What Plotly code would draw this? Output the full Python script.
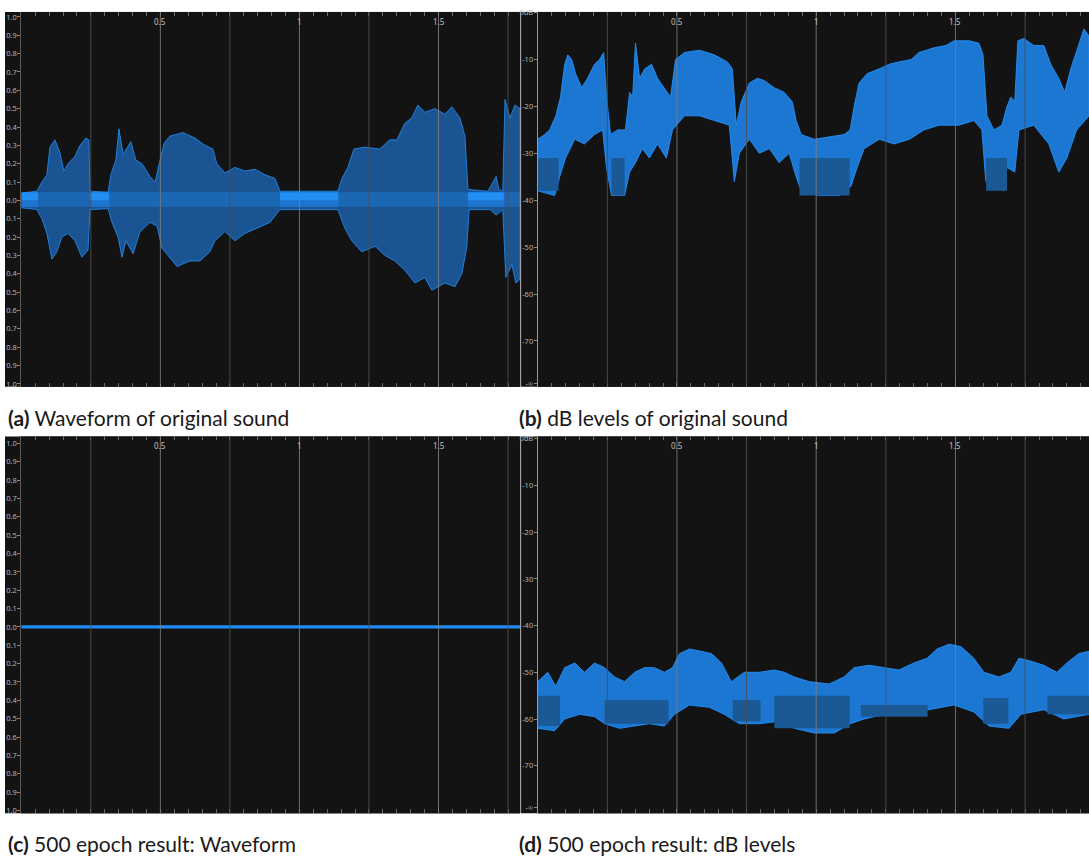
import plotly.graph_objects as go

W, H = 1089, 859

# ---------------- data ----------------
# (a) waveform of original sound: peak envelope, time in s, amplitude
a_up_t = [0.000, 0.056, 0.074, 0.092, 0.103, 0.121, 0.139, 0.153, 0.168, 0.193, 0.211, 0.232, 0.243, 0.247,
          0.312, 0.322, 0.340, 0.351, 0.366, 0.394, 0.412, 0.434, 0.463, 0.481, 0.499, 0.513, 0.534, 0.581,
          0.624, 0.660, 0.689, 0.703, 0.732, 0.768, 0.804, 0.840, 0.876, 0.912, 0.930, 1.138, 1.153, 1.174,
          1.196, 1.235, 1.289, 1.325, 1.350, 1.379, 1.404, 1.426, 1.451, 1.487, 1.523, 1.548, 1.577, 1.595,
          1.606, 1.678, 1.692, 1.707, 1.717, 1.731, 1.739, 1.757, 1.775, 1.793]
a_up_v = [0.04, 0.05, 0.10, 0.14, 0.29, 0.33, 0.26, 0.16, 0.20, 0.24, 0.30, 0.34, 0.33, 0.05,
          0.045, 0.14, 0.22, 0.39, 0.25, 0.32, 0.22, 0.20, 0.13, 0.10, 0.22, 0.31, 0.35, 0.37,
          0.34, 0.30, 0.28, 0.20, 0.15, 0.18, 0.16, 0.17, 0.14, 0.12, 0.05, 0.05, 0.12, 0.18,
          0.28, 0.29, 0.28, 0.33, 0.33, 0.42, 0.45, 0.52, 0.48, 0.50, 0.47, 0.51, 0.45, 0.35,
          0.06, 0.05, 0.09, 0.13, 0.06, 0.05, 0.55, 0.45, 0.52, 0.50]
a_lo_t = [0.000, 0.056, 0.074, 0.092, 0.110, 0.128, 0.146, 0.168, 0.193, 0.218, 0.240, 0.247,
          0.312, 0.326, 0.348, 0.362, 0.376, 0.402, 0.427, 0.463, 0.488, 0.506, 0.534, 0.560,
          0.606, 0.642, 0.678, 0.696, 0.732, 0.768, 0.804, 0.851, 0.894, 0.930, 1.138, 1.163,
          1.188, 1.224, 1.272, 1.307, 1.343, 1.379, 1.415, 1.451, 1.476, 1.523, 1.559, 1.584,
          1.602, 1.610, 1.685, 1.707, 1.731, 1.742, 1.764, 1.778, 1.793]
a_lo_v = [-0.04, -0.05, -0.10, -0.18, -0.32, -0.28, -0.20, -0.18, -0.22, -0.31, -0.27, -0.05,
          -0.045, -0.12, -0.20, -0.31, -0.22, -0.29, -0.17, -0.12, -0.14, -0.26, -0.31, -0.36,
          -0.33, -0.33, -0.28, -0.22, -0.17, -0.22, -0.18, -0.15, -0.12, -0.05, -0.05, -0.15,
          -0.22, -0.28, -0.25, -0.30, -0.33, -0.38, -0.45, -0.42, -0.49, -0.45, -0.47, -0.40,
          -0.25, -0.05, -0.05, -0.08, -0.05, -0.42, -0.35, -0.45, -0.43]
# bright noise-floor band visible in the silent stretches
a_sil_t0 = [0.000, 0.247, 0.930, 1.606]
a_sil_t1 = [0.060, 0.316, 1.140, 1.735]
a_noise_top = 0.045
a_noise_bot = -0.035

# (b) dB levels of original sound: peak envelope in dB
b_up_t = [0.0, 0.025, 0.043, 0.065, 0.082, 0.097, 0.108, 0.122, 0.136, 0.158, 0.179, 0.204, 0.222, 0.237,
          0.247, 0.262, 0.287, 0.315, 0.330, 0.341, 0.351, 0.366, 0.384, 0.409, 0.430, 0.455, 0.477, 0.495,
          0.527, 0.581, 0.634, 0.681, 0.699, 0.713, 0.731, 0.760, 0.789, 0.814, 0.849, 0.885, 0.914, 0.928,
          0.946, 0.993, 1.047, 1.100, 1.122, 1.136, 1.154, 1.183, 1.226, 1.262, 1.297, 1.341, 1.369, 1.423,
          1.466, 1.495, 1.548, 1.584, 1.599, 1.613, 1.638, 1.667, 1.685, 1.699, 1.713, 1.724, 1.746, 1.781,
          1.817, 1.842, 1.871, 1.892, 1.914, 1.943, 1.961, 1.980]
b_up_db = [-27, -26, -25, -22, -18, -11, -9, -10, -13, -16, -14, -11, -10, -8.5,
           -18, -26, -25, -25, -17, -18, -6.5, -14, -12, -11, -14, -16, -18, -10,
           -8.5, -8, -9, -10.5, -12, -24, -19, -15, -14, -14.5, -16, -17, -19, -23,
           -26, -27, -26.5, -26, -25, -20, -15, -13, -12, -11, -10.5, -10, -8.5, -7.5,
           -7, -6, -6, -6.5, -9, -22, -25, -24, -20, -18, -19, -6, -5.5, -7,
           -7, -11, -14, -17, -12, -7, -3.5, -5]
b_lo_t = [0.0, 0.061, 0.079, 0.100, 0.133, 0.168, 0.204, 0.233, 0.247, 0.265, 0.312, 0.330, 0.351,
          0.376, 0.401, 0.430, 0.462, 0.484, 0.527, 0.581, 0.634, 0.688, 0.706, 0.724, 0.760, 0.796,
          0.832, 0.867, 0.903, 0.928, 0.946, 1.011, 1.082, 1.125, 1.147, 1.172, 1.226, 1.280, 1.335,
          1.387, 1.441, 1.513, 1.566, 1.595, 1.609, 1.674, 1.685, 1.713, 1.728, 1.781, 1.835, 1.871,
          1.900, 1.935, 1.980]
b_lo_db = [-38, -39, -35, -31, -27, -28, -26, -25, -33, -39, -39, -34, -32,
           -29, -31, -28, -31, -25, -22, -22, -23, -24, -36, -30, -27, -30,
           -29, -32, -30, -35, -38, -39, -39, -37, -33, -29, -27, -28, -27,
           -25, -24, -24, -23, -25, -36, -38, -33, -34, -25, -24, -28, -34,
           -31, -25, -22]
# dense (darker) body in the quiet stretches: start, end, top, bottom
b_dark_t0 = [0.000, 0.265, 0.940, 1.610]
b_dark_t1 = [0.075, 0.312, 1.120, 1.685]
b_dark_top = [-31, -31, -31, -31]
b_dark_bot = [-38, -39, -39, -38]

# (c) 500 epoch result: waveform (almost silent)
c_t = [0.0, 1.793]
c_noise_floor = 0.006

# (d) 500 epoch result: dB levels
d_up_t = [0.0, 0.036, 0.065, 0.097, 0.133, 0.168, 0.204, 0.240, 0.276, 0.312, 0.348, 0.384, 0.419,
          0.455, 0.484, 0.509, 0.545, 0.581, 0.624, 0.660, 0.695, 0.742, 0.796, 0.849, 0.885, 0.921,
          0.975, 1.047, 1.100, 1.136, 1.190, 1.244, 1.297, 1.351, 1.398, 1.434, 1.477, 1.520, 1.566,
          1.602, 1.656, 1.699, 1.728, 1.763, 1.817, 1.864, 1.900, 1.943, 1.980]
d_up_db = [-52, -50, -53, -49, -48, -50, -48, -49, -51, -52, -50, -49, -49,
           -50, -49, -46, -45, -45.5, -46, -48, -52, -50, -50, -49.5, -50, -51,
           -52, -52.5, -51, -49, -48.5, -49, -49.5, -48, -47, -45, -44, -44.5, -47,
           -50, -51, -50, -47, -47.5, -48.5, -50, -48, -46, -45.5]
d_lo_t = [0.0, 0.061, 0.097, 0.151, 0.204, 0.240, 0.294, 0.348, 0.401, 0.455, 0.491, 0.545, 0.616,
          0.670, 0.724, 0.796, 0.867, 0.921, 0.993, 1.065, 1.122, 1.172, 1.244, 1.335, 1.405, 1.495,
          1.566, 1.620, 1.692, 1.735, 1.817, 1.889, 1.980]
d_lo_db = [-62, -62.5, -60, -59, -59.5, -61, -62, -61.5, -61, -61.5, -59, -57, -57.5,
           -59, -61, -61, -60.5, -62, -63, -63, -61, -60, -59, -59, -58, -57,
           -58.5, -61.5, -62, -59, -58, -60, -59]
d_dark_t0 = [0.000, 0.240, 0.700, 0.850, 1.160, 1.600, 1.830]
d_dark_t1 = [0.080, 0.470, 0.800, 1.120, 1.400, 1.690, 1.980]
d_dark_top = [-55, -56, -56, -55, -57, -55.5, -55]
d_dark_bot = [-61.5, -61, -60.5, -62, -59.5, -61, -59]

# axis tick labels
amp_vals = [1.0, 0.9, 0.8, 0.7, 0.6, 0.5, 0.4, 0.3, 0.2, 0.1, 0.0,
            -0.1, -0.2, -0.3, -0.4, -0.5, -0.6, -0.7, -0.8, -0.9, -1.0]
amp_text = ["1.0", "0.9", "0.8", "0.7", "0.6", "0.5", "0.4", "0.3", "0.2", "0.1", "0.0",
            "0.1", "0.2", "0.3", "0.4", "0.5", "0.6", "0.7", "0.8", "0.9", "1.0"]
db_vals = [0, -10, -20, -30, -40, -50, -60, -70, -79]
db_text = ["0dB", "-10", "-20", "-30", "-40", "-50", "-60", "-70", "-\u221e"]
time_major = [0.5, 1.0, 1.5]
time_major_text = ["0.5", "1", "1.5"]
time_grid = [0.25, 0.5, 0.75, 1.0, 1.25, 1.5, 1.75]

captions = ["<b>(a)</b> Waveform of original sound",
            "<b>(b)</b> dB levels of original sound",
            "<b>(c)</b> 500 epoch result: Waveform",
            "<b>(d)</b> 500 epoch result: dB levels"]

# ---------------- styling / layout ----------------
BG = "#131313"
BRIGHT = "rgb(32,140,245)"
WAVE_FILL = "rgba(30,125,225,0.62)"
DB_FILL = "rgba(30,138,245,0.85)"
DARK_BODY = "rgb(26,88,150)"
LABEL = "#b4b4b4"
FONT = "Noto Sans"


def px(x):
    return x / W


def py(y):
    return 1 - y / H


fig = go.Figure()


def poly(ut, uv, lt, lv):
    return list(ut) + list(lt)[::-1], list(uv) + list(lv)[::-1]


def rects(t0, t1, top, bot):
    xs, ys = [], []
    for s, e, tp, bt in zip(t0, t1, top, bot):
        xs += [s, e, e, s, s, None]
        ys += [tp, tp, bt, bt, tp, None]
    return xs, ys


def add_fill(x, y, color, xa, ya, lw=0, lc=None):
    fig.add_trace(go.Scatter(x=x, y=y, fill="toself", fillcolor=color, mode="lines",
                             line=dict(width=lw, color=lc or color), xaxis=xa, yaxis=ya,
                             hoverinfo="skip", showlegend=False, connectgaps=False))


# (a)
xa_, ya_ = poly(a_up_t, a_up_v, a_lo_t, a_lo_v)
add_fill(xa_, ya_, WAVE_FILL, "x", "y", 1, "rgba(35,140,240,0.85)")
# faint centre core through the whole signal, bright band in the silent stretches
add_fill([a_up_t[0], a_up_t[-1], a_up_t[-1], a_up_t[0]],
         [a_noise_top, a_noise_top, a_noise_bot, a_noise_bot], "rgba(35,140,240,0.35)", "x", "y")
n_sil = len(a_sil_t0)
xr, yr = rects(a_sil_t0, a_sil_t1, [a_noise_top] * n_sil, [0] * n_sil)
add_fill(xr, yr, "rgba(35,142,245,0.97)", "x", "y")
xr, yr = rects(a_sil_t0, a_sil_t1, [0] * n_sil, [a_noise_bot] * n_sil)
add_fill(xr, yr, "rgba(30,118,212,0.95)", "x", "y")

# (b)
xb_, yb_ = poly(b_up_t, b_up_db, b_lo_t, b_lo_db)
add_fill(xb_, yb_, DB_FILL, "x2", "y2", 1, "rgba(35,145,250,0.9)")
xr, yr = rects(b_dark_t0, b_dark_t1, b_dark_top, b_dark_bot)
add_fill(xr, yr, DARK_BODY, "x2", "y2")

# (c)
add_fill([c_t[0], c_t[-1], c_t[-1], c_t[0]],
         [c_noise_floor, c_noise_floor, -c_noise_floor, -c_noise_floor], BRIGHT, "x3", "y3", 1, BRIGHT)

# (d)
xd_, yd_ = poly(d_up_t, d_up_db, d_lo_t, d_lo_db)
add_fill(xd_, yd_, DB_FILL, "x4", "y4", 1, "rgba(35,145,250,0.9)")
xr, yr = rects(d_dark_t0, d_dark_t1, d_dark_top, d_dark_bot)
add_fill(xr, yr, DARK_BODY, "x4", "y4")

# panels: (x_left_px, x_right_px, y_top_px, y_bottom_px, t_end, yrange, kind)
panels = [
    (21.3, 520, 7, 385, 1.793, [-1.016, 1.027], "amp"),
    (537.7, 1089, 7, 385, 1.9795, [-79.8, 0.15], "db"),
    (21.3, 520, 435, 815, 1.793, [-1.016, 1.038], "amp"),
    (537.7, 1089, 435, 815, 1.9795, [-80.2, 0.49], "db"),
]

tick_vals = [round(0.05 * k, 2) for k in range(1, 40)]
layout = dict(width=W, height=H, margin=dict(l=0, r=0, t=0, b=0),
              paper_bgcolor="white", plot_bgcolor=BG, showlegend=False)
shapes = []
annotations = []
for i, (xl, xr_, yt, yb, tend, yrng, kind) in enumerate(panels):
    n = "" if i == 0 else str(i + 1)
    tv = [v for v in tick_vals if v < tend]
    layout["xaxis" + n] = dict(domain=[px(xl), px(xr_)], range=[0, tend], anchor="y" + n,
                               side="top", ticks="inside", ticklen=4, tickcolor="#6a6a6a",
                               tickvals=tv, showticklabels=False,
                               showgrid=False, zeroline=False, showline=False, mirror="ticks",
                               fixedrange=True)
    layout["yaxis" + n] = dict(domain=[py(yb), py(yt)], range=yrng, anchor="x" + n,
                               tickvals=amp_vals if kind == "amp" else db_vals,
                               ticktext=amp_text if kind == "amp" else db_text,
                               ticks="outside", ticklen=3, tickcolor="#8a8a8a",
                               tickfont=dict(family=FONT, size=7.5, color=LABEL),
                               ticklabeloverflow="allow", ticklabelstandoff=-1,
                               showgrid=False, zeroline=False, showline=True,
                               linecolor="#5a5a5a" if kind == "amp" else "#9a9a9a", linewidth=1,
                               fixedrange=True)
    # time labels along the top, placed with the axis scale
    for v, txt in zip(time_major, time_major_text):
        annotations.append(dict(text=txt, x=v, y=1, xref="x" + n, yref="y" + n + " domain",
                                xanchor="center", yanchor="top", yshift=-2, showarrow=False,
                                font=dict(family=FONT, size=8, color="#c4c0b4")))
    # dark panel background including the label strip
    left = 5 if kind == "amp" else 521
    shapes.append(dict(type="rect", xref="paper", yref="paper", x0=px(left), x1=px(xr_),
                       y0=py(yb), y1=py(yt), fillcolor=BG, line=dict(width=0), layer="below"))
    # vertical time grid
    for g in time_grid:
        if g < tend:
            major = abs(g * 2 - round(g * 2)) < 1e-9
            shapes.append(dict(type="line", xref="x" + n, yref="y" + n + " domain", x0=g, x1=g,
                               y0=0, y1=1, layer="above",
                               line=dict(color="rgba(125,125,125,0.85)" if major else "rgba(78,78,78,0.9)",
                                         width=1)))
    if kind == "db":
        shapes.append(dict(type="line", xref="paper", yref="paper", x0=px(520.7), x1=px(520.7),
                           y0=py(yb), y1=py(yt), line=dict(color="#8a8a8a", width=1)))
layout["shapes"] = shapes

cap_pos = [(6, 416), (517, 416), (6, 845), (517, 845)]
for c, (x, y) in zip(captions, cap_pos):
    annotations.append(dict(text=c, x=px(x), y=py(y), xref="paper", yref="paper", xanchor="left",
                            yanchor="middle", showarrow=False,
                            font=dict(family="Lato", size=21, color="#1a1a1a")))
layout["annotations"] = annotations

fig.update_layout(**layout)
fig.write_html("out.html")
